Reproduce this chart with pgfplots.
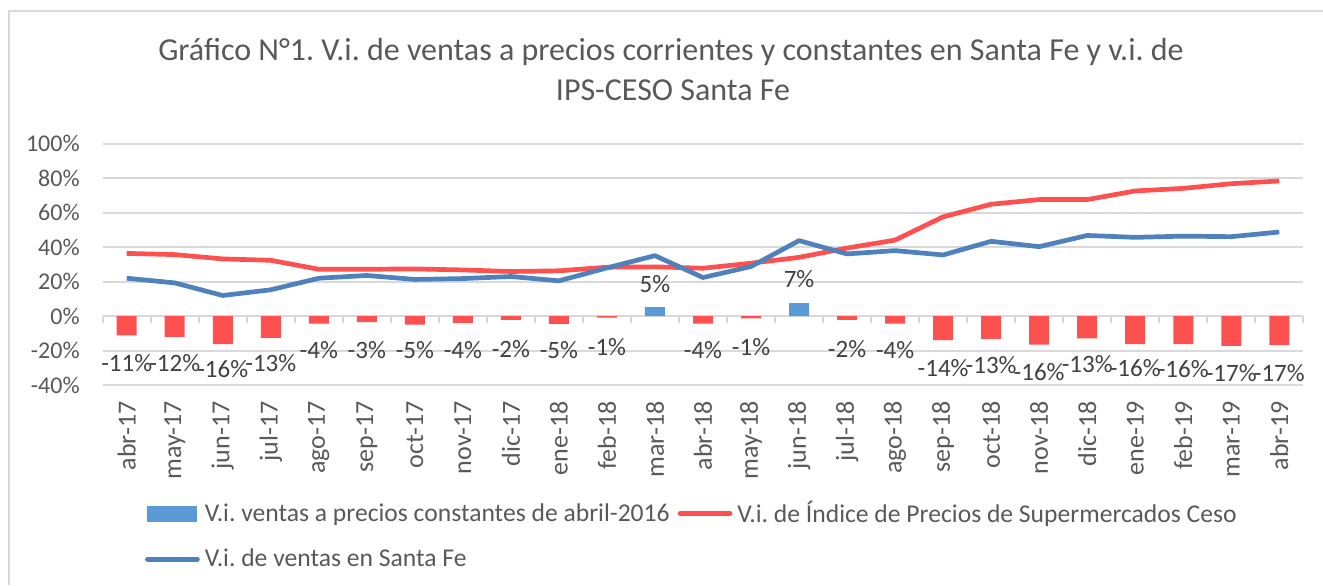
\documentclass[border=0pt]{standalone}
\usepackage{pgfplots}
\usepackage{pgfplotstable}
\pgfplotsset{compat=1.18}
\usepackage{fontspec}
\setmainfont{Carlito}
\frenchspacing
\definecolor{gridc}{HTML}{D9D9D9}
\definecolor{txt}{HTML}{595959}
\definecolor{lbl}{HTML}{404040}
\definecolor{redc}{HTML}{FF5050}
\definecolor{bluel}{HTML}{4F81BD}
\definecolor{blueb}{HTML}{5B9BD5}

% x  santa fe line, IPS-CESO line
\pgfplotstableread{
x   blue  red
0   21.9  36.3
1   19.2  35.6
2   11.9  33.1
3   15.2  32.3
4   21.9  27.1
5   23.5  27.1
6   21.2  27.3
7   21.7  26.7
8   22.9  25.8
9   20.4  26.2
10  27.9  28.3
11  35.0  28.5
12  22.3  27.7
13  28.7  30.6
14  43.7  34.0
15  36.0  39.4
16  37.9  44.0
17  35.4  57.5
18  43.3  64.8
19  40.2  67.5
20  46.7  67.5
21  45.6  72.5
22  46.3  74.0
23  46.0  76.7
24  48.7  78.3
}\lines

% negative bars (constant prices)
\pgfplotstableread{
x   v
0   -11.2
1   -12.1
2   -16.3
3   -12.7
4   -4.4
5   -3.5
6   -5.0
7   -4.0
8   -2.3
9   -4.6
10  -1.0
12  -4.4
13  -1.4
15  -2.2
16  -4.4
17  -14.0
18  -13.3
19  -16.6
20  -12.9
21  -16.3
22  -16.3
23  -17.3
24  -16.9
}\negbars

% positive bars
\pgfplotstableread{
x   v
11  5.2
14  7.5
}\posbars

% data labels: position and text
\pgfplotstableread{
x   y      t
0   -27.5  -11
1   -27.5  -12
2   -31.0  -16
3   -27.5  -13
4   -19.8  -4
5   -19.8  -3
6   -19.8  -5
7   -19.8  -4
8   -19.4  -2
9   -19.8  -5
10  -17.9  -1
11  18.7   5
12  -19.8  -4
13  -17.9  -1
14  21.5   7
15  -19.2  -2
16  -19.8  -4
17  -30.4  -14
18  -28.5  -13
19  -32.3  -16
20  -28.0  -13
21  -30.4  -16
22  -30.8  -16
23  -33.3  -17
24  -32.9  -17
}\labels

\begin{document}
\begin{tikzpicture}
\useasboundingbox (0pt,0pt) rectangle (661.5pt,-292.5pt);
\draw[gridc, line width=1pt] (4.5pt,-292.5pt) -- (4.5pt,-5.5pt) -- (661.5pt,-5.5pt);
\node[anchor=base, font=\fontsize{16}{19}\selectfont, text=txt] at (335.5pt,-30pt)
  {Gráfico N°1. V.i. de ventas a precios corrientes y constantes en Santa Fe y v.i. de};
\node[anchor=base, font=\fontsize{16}{19}\selectfont, text=txt] at (336.5pt,-50pt)
  {IPS-CESO Santa Fe};
\begin{axis}[
  at={(51.35pt,-192.5pt)}, anchor=south west,
  scale only axis, width=600.3pt, height=120.75pt,
  xmin=-0.5, xmax=24.5, ymin=-40, ymax=100,
  axis line style={draw=none},
  clip=false,
  ytick={-40,-20,0,20,40,60,80,100},
  yticklabel={\pgfmathprintnumber[assume math mode=true]{\tick}\%},
  ymajorgrids,
  grid style={gridc, line width=1pt},
  xtick={0,...,24},
  xticklabels={abr-17,may-17,jun-17,jul-17,ago-17,sep-17,oct-17,nov-17,dic-17,ene-18,feb-18,mar-18,abr-18,may-18,jun-18,jul-18,ago-18,sep-18,oct-18,nov-18,dic-18,ene-19,feb-19,mar-19,abr-19},
  major tick length=0pt,
  tick label style={text=txt},
  yticklabel style={font=\fontsize{12}{14}\selectfont, anchor=east, inner sep=0pt, xshift=-11.3pt},
  xticklabel style={font=\fontsize{13}{15}\selectfont, yshift=-8pt, rotate=90, anchor=east, inner sep=0pt},
  /pgf/number format/assume math mode=true,
  legend columns=2,
  legend cell align=left,
  legend style={at={(0.035,-0.46)}, anchor=north west, draw=none, fill=none,
    inner sep=0pt, font=\fontsize{12.8}{15}\selectfont, text=txt,
    nodes={inner sep=2.5pt},
    /tikz/every even column/.append style={column sep=1.5pt},
    row sep=6.5pt},
]
\pgfplotsinvokeforeach{-0.5,0.5,...,24.5}{
  \draw[gridc, line width=1pt] (axis cs:#1,0) -- ([yshift=-3.3pt]axis cs:#1,0);
}
\addplot[ybar, bar width=10pt, bar shift=0pt, fill=blueb, draw=none,
  legend image code/.code={\fill[blueb] (0pt,-4pt) rectangle (25pt,4pt);}]
  table[x=x, y=v] {\posbars};
\addlegendentry{V.i. ventas a precios constantes de abril-2016}
\addplot[ybar, bar width=10pt, bar shift=0pt, fill=redc, draw=none, forget plot]
  table[x=x, y=v] {\negbars};
\addplot[redc, line width=2.35pt, line join=round, mark=none,
  legend image code/.code={\draw[redc, line width=2.35pt, line cap=round] (0pt,0pt) -- (25pt,0pt);}]
  table[x=x, y=red] {\lines};
\addlegendentry{V.i. de Índice de Precios de Supermercados Ceso}
\addplot[bluel, line width=2.35pt, line join=round, mark=none,
  legend image code/.code={\draw[bluel, line width=2.35pt, line cap=round] (0pt,0pt) -- (25pt,0pt);}]
  table[x=x, y=blue] {\lines};
\addlegendentry{V.i. de ventas en Santa Fe}
\addplot[only marks, mark=text, text mark={}, forget plot,
  point meta=explicit symbolic,
  nodes near coords={\pgfplotspointmeta\%},
  every node near coord/.append style={anchor=center, inner sep=0pt,
    font=\fontsize{12.5}{15}\selectfont, text=lbl}]
  table[x=x, y=y, meta=t] {\labels};
\end{axis}
\end{tikzpicture}
\end{document}
